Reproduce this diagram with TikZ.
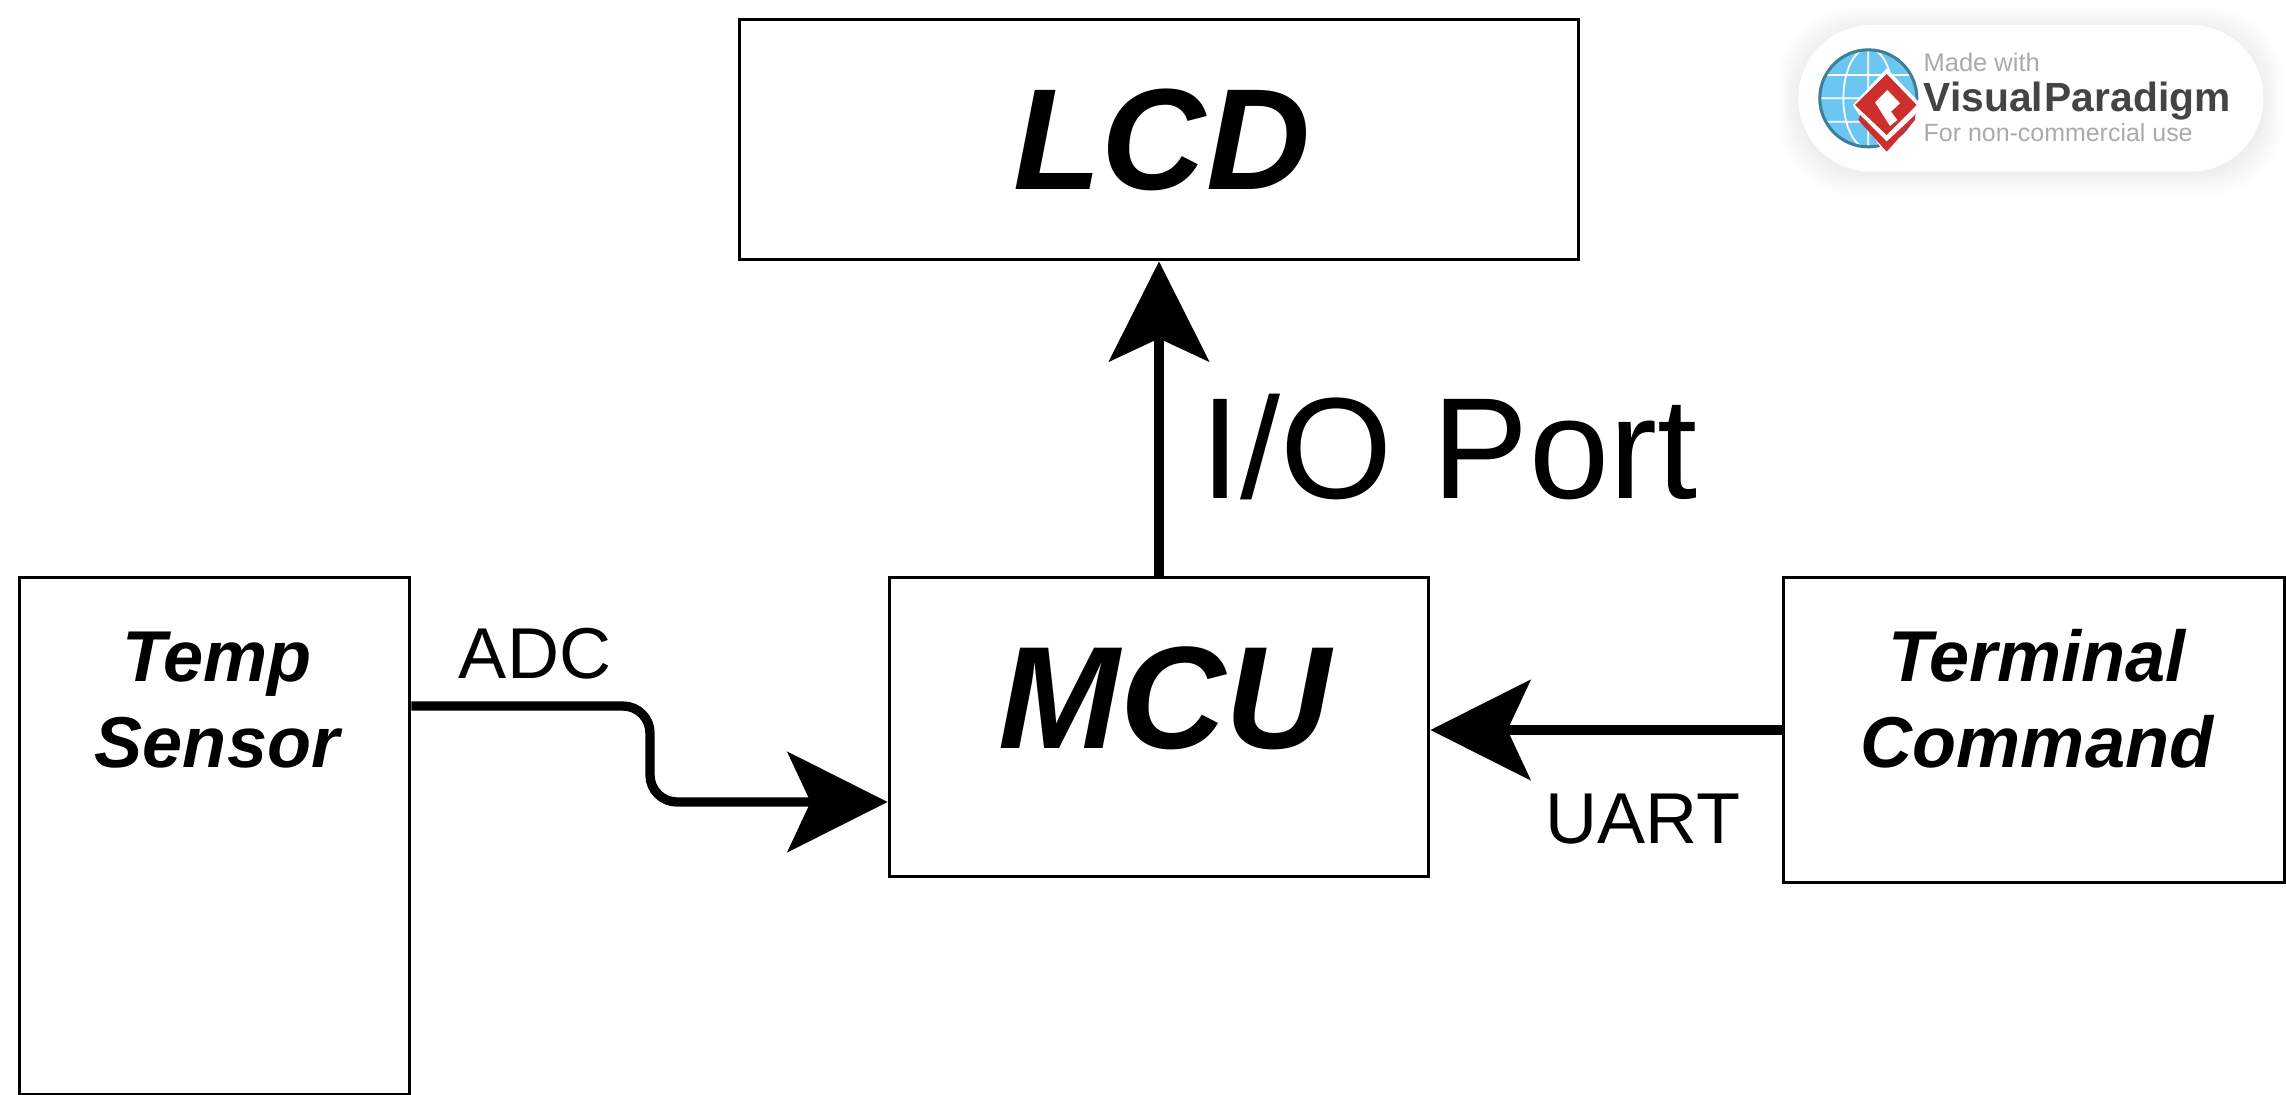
\documentclass[tikz,border=0pt]{standalone}
\usepackage{fontspec}
\setmainfont{Liberation Sans}
\usepackage{xcolor}
\usetikzlibrary{arrows.meta}
\definecolor{globeblue}{HTML}{6CC6F2}
\definecolor{globeedge}{HTML}{3F7F93}
\definecolor{logored}{HTML}{CC2F2C}
\definecolor{logotext}{HTML}{444444}
\definecolor{logogrey}{HTML}{AAAAAA}
\begin{document}
\begin{tikzpicture}[
  x=0.02cm,y=-0.02cm,
  box/.style={draw,line width=1.7pt,inner sep=0pt},
  bigtext/.style={font=\fontsize{82}{82}\selectfont\bfseries\itshape,inner sep=0pt},
  smalltext/.style={font=\fontsize{41}{49}\selectfont\bfseries\itshape,align=center,inner sep=0pt},
  link/.style={line width=5.3pt,-{Stealth[length=2cm,width=2cm,inset=0.46cm]}},
  linklabel/.style={font=\fontsize{41}{41}\selectfont,inner sep=0pt},
  logotxt/.style={anchor=base west,inner sep=0pt}
]
  \useasboundingbox (0,0) rectangle (2286,1095);

  \node[box,minimum width=16.8cm,minimum height=4.82cm] (lcd) at (1159,139.5) {};
  \node[box,minimum width=7.82cm,minimum height=10.36cm] (temp) at (214.5,836) {};
  \node[box,minimum width=10.8cm,minimum height=6cm] (mcu) at (1159,727) {};
  \node[box,minimum width=10.04cm,minimum height=6.12cm] (term) at (2034,730) {};

  \node[bigtext] (lcdtxt) at (1162,140) {LCD};
  \node[bigtext,font=\fontsize{83}{83}\selectfont\bfseries\itshape] (mcutxt) at (1165,698) {MCU};
  \node[smalltext] (temptxt) at (217,700) {Temp\\Sensor};
  \node[smalltext] (termtxt) at (2037,699) {Terminal\\Command};

  \draw[link] (mcu.north) -- (lcd.south);
  \draw[link] (term.west) -- (term.west -| mcu.east);
  \draw[link,rounded corners=0.54cm] ([yshift=2.6cm]temp.east) -| (650,802) -- ([yshift=-1.5cm]mcu.west);

  \node[linklabel,font=\fontsize{82}{82}\selectfont] (portlbl) at (1449,447) {I/O Port};
  \node[linklabel] (adclbl) at (535,654) {ADC};
  \node[linklabel] (uartlbl) at (1643,819) {UART};

  % badge
  \begin{scope}[shift={(1780,0)},x=0.00667cm,y=-0.00667cm]
    \foreach \s in {60,52,...,4}
      \fill[black,opacity=0.006,rounded corners=1.46cm] (55-\s,75-\s+8) rectangle (1450+\s,515+\s+8);
    \fill[white,rounded corners=1.46cm] (55,75) rectangle (1450,515);
    \begin{scope}
      \clip (265,295) circle (1cm);
      \fill[globeblue] (265,295) circle (1cm);
      \draw[white,line width=1pt] (115,225) -- (415,225) (115,295) -- (415,295) (115,365) -- (415,365)
        (265,145) -- (265,445) (265,295) ellipse (0.5cm and 1cm);
    \end{scope}
    \draw[globeedge,line width=1.7pt] (265,295) circle (0.97cm);
    \fill[white] (320,205) -- (425,315) -- (320,470) -- (218,315) -- cycle;
    \fill[logored] (320,222) -- (410,315) -- (320,405) -- (225,315) -- cycle;
    \fill[logored] (235,360) -- (320,455) -- (405,360) -- (405,345) -- (320,425) -- (240,345) -- cycle;
    \fill[white] (285,307) -- (322,270) -- (360,310) -- (333,335) -- (352,360) -- (330,378) -- cycle;
    \node[logotxt,text=logogrey,font=\fontsize{14.5}{14.5}\selectfont] (madewith) at (430,215) {Made with};
    \node[logotxt,text=logotext,font=\fontsize{23.2}{23.2}\selectfont\bfseries] (vpname) at (430,335) {Visual\kern1pt Paradigm};
    \node[logotxt,text=logogrey,font=\fontsize{14.2}{14.2}\selectfont] (noncomm) at (430,425) {For non-commercial use};
  \end{scope}
\end{tikzpicture}
\end{document}
